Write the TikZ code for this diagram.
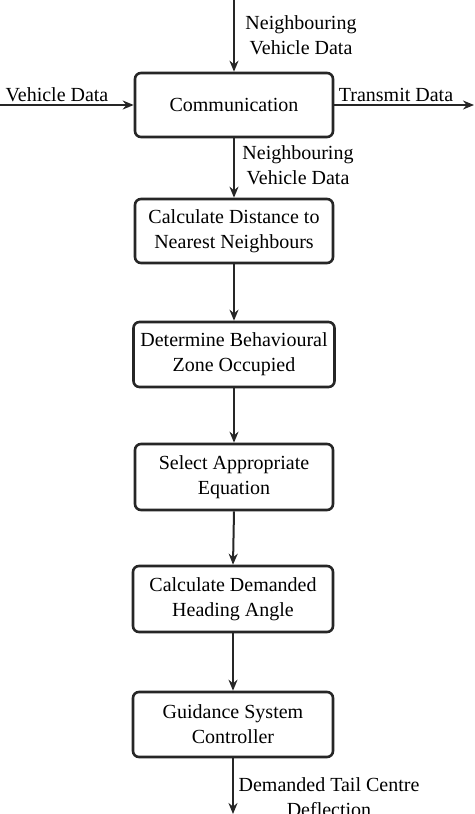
\documentclass[tikz,border=0pt]{standalone}
\usepackage{fontspec}
\setmainfont{Liberation Serif}
\usetikzlibrary{arrows.meta}
\begin{document}
\begin{tikzpicture}[x=1pt,y=-1pt,
  procbox/.style={draw=black!85, line width=2.6pt, rounded corners=6pt, minimum width=198pt, minimum height=64pt, inner sep=0pt, align=center, font=\fontsize{20}{25}\selectfont},
  lbl/.style={align=center, inner sep=0pt, font=\fontsize{20}{25}\selectfont},
  arr/.style={draw=black!85, line width=2pt, -{Stealth[length=11pt,width=9pt]}}]
\useasboundingbox (0,0) rectangle (474,814);
\node[procbox] (b1) at (234,105) {Communication};
\node[procbox] (b2) at (234,231) {Calculate Distance to\\Nearest Neighbours};
\node[procbox, minimum width=201pt, minimum height=65pt] (b3) at (234,354.5) {Determine Behavioural\\Zone Occupied};
\node[procbox, minimum height=66pt] (b4) at (234,477) {Select Appropriate\\Equation};
\node[procbox, minimum width=200pt, minimum height=66pt] (b5) at (233,599) {Calculate Demanded\\Heading Angle};
\node[procbox, minimum width=200pt, minimum height=65pt] (b6) at (233,724.5) {Guidance System\\Controller};
\coordinate (t) at (234,0);
\coordinate (l) at (0,105);
\coordinate (r) at (474,105);
\coordinate (bt) at (233,814);
\draw[arr] (t) -- (b1.north);
\draw[arr] (l) -- (b1.west);
\draw[arr] (b1.east) -- (r);
\draw[arr] (b1.south) -- (b2.north);
\draw[arr] (b2.south) -- (b3.north);
\draw[arr] (b3.south) -- (b4.north);
\draw[arr] (b4.south) -- (b5.north);
\draw[arr] (b5.south) -- (b6.north);
\draw[arr] (b6.south) -- (bt);
\node[lbl] (n1) at (301,35) {Neighbouring\\Vehicle Data};
\node[lbl] (n2) at (298,165) {Neighbouring\\Vehicle Data};
\node[lbl] (vd) at (57,95) {Vehicle Data};
\node[lbl] (td) at (396,95) {Transmit Data};
\node[lbl] (dt) at (329,797) {Demanded Tail Centre\\Deflection};
\end{tikzpicture}
\end{document}
